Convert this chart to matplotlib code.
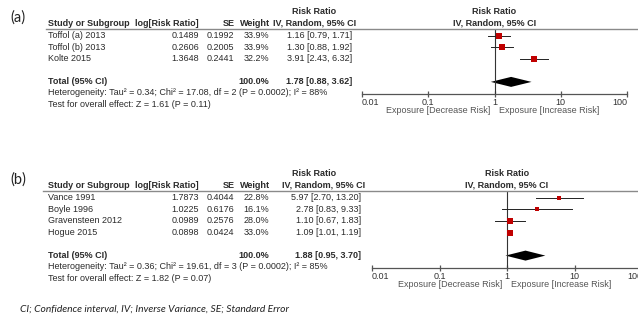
import numpy as np
import matplotlib.pyplot as plt
from matplotlib.transforms import Affine2D
from matplotlib.ticker import NullLocator

# ------------------------------------------------------------------
# Study data (two meta-analyses, inverse variance, random effects)
# ------------------------------------------------------------------
a_studies = ["Toffol (a) 2013", "Toffol (b) 2013", "Kolte 2015"]
a_logrr = [0.1489, 0.2606, 1.3648]
a_se = [0.1992, 0.2005, 0.2441]
a_weight = [33.9, 33.9, 32.2]
a_rr = [1.16, 1.30, 3.91]
a_lo = [0.79, 0.88, 2.43]
a_hi = [1.71, 1.92, 6.32]
a_total = [1.78, 0.88, 3.62]
a_total_weight = 100.0
a_het = "Heterogeneity: Tau\u00b2 = 0.34; Chi\u00b2 = 17.08, df = 2 (P = 0.0002); I\u00b2 = 88%"
a_test = "Test for overall effect: Z = 1.61 (P = 0.11)"

b_studies = ["Vance 1991", "Boyle 1996", "Gravensteen 2012", "Hogue 2015"]
b_logrr = [1.7873, 1.0225, 0.0989, 0.0898]
b_se = [0.4044, 0.6176, 0.2576, 0.0424]
b_weight = [22.8, 16.1, 28.0, 33.0]
b_rr = [5.97, 2.78, 1.10, 1.09]
b_lo = [2.70, 0.83, 0.67, 1.01]
b_hi = [13.20, 9.33, 1.83, 1.19]
b_total = [1.88, 0.95, 3.70]
b_total_weight = 100.0
b_het = "Heterogeneity: Tau\u00b2 = 0.36; Chi\u00b2 = 19.61, df = 3 (P = 0.0002); I\u00b2 = 85%"
b_test = "Test for overall effect: Z = 1.82 (P = 0.07)"

ticks = [0.01, 0.1, 1, 10, 100]
tick_labels = ["0.01", "0.1", "1", "10", "100"]

W, H = 638, 324
plt.rcParams['font.family'] = ['Liberation Sans', 'DejaVu Sans']

fig = plt.figure(figsize=(W / 100, H / 100), dpi=100)
fig.patch.set_facecolor('white')

# pixel coordinates, origin top-left
pix = Affine2D().scale(1 / W, -1 / H).translate(0, 1) + fig.transFigure

TXT = '#2b2b2b'
FS = 6.5
RED = '#C00000'


def forest(tag, studies, logrr, se, weight, rr, lo, hi, total, total_w,
           het, test, top, x0, x1, ci_right, ci_center, rule_left):
    y_h1, y_h2, y_rule = top, top + 11.5, top + 17.5
    row0, step = top + 24, 11.7
    y_tot = row0 + step * (len(studies) - 1) + 23
    y_axis = y_tot + 12

    fig.text(10, top + 6.5, tag, transform=pix, fontsize=10.5, family='Lato',
             color='#222222', va='center')

    # table header
    fig.text(314, y_h1, "Risk Ratio", transform=pix, fontsize=FS,
             weight='bold', color=TXT, ha='center', va='center')
    fig.text(48, y_h2, "Study or Subgroup", transform=pix, fontsize=FS,
             weight='bold', color=TXT, va='center')
    fig.text(199, y_h2, "log[Risk Ratio]", transform=pix, fontsize=FS,
             weight='bold', color=TXT, ha='right', va='center')
    fig.text(235, y_h2, "SE", transform=pix, fontsize=FS,
             weight='bold', color=TXT, ha='right', va='center')
    fig.text(270, y_h2, "Weight", transform=pix, fontsize=FS,
             weight='bold', color=TXT, ha='right', va='center')
    fig.text(ci_center, y_h2, "IV, Random, 95% CI", transform=pix,
             fontsize=FS, weight='bold', color=TXT, ha='center', va='center')
    xm = (x0 + x1) / 2
    fig.text(xm, y_h1, "Risk Ratio", transform=pix, fontsize=FS,
             weight='bold', color=TXT, ha='center', va='center')
    fig.text(xm, y_h2, "IV, Random, 95% CI", transform=pix, fontsize=FS,
             weight='bold', color=TXT, ha='center', va='center')
    fig.add_artist(plt.Line2D([rule_left, W], [y_rule, y_rule],
                              transform=pix, color='#8a8a8a', lw=1.0))

    # study rows
    for i, name in enumerate(studies):
        y = row0 + i * step
        fig.text(48, y, name, transform=pix, fontsize=FS, color=TXT, va='center')
        fig.text(199, y, f"{logrr[i]:.4f}", transform=pix, fontsize=FS,
                 color=TXT, ha='right', va='center')
        fig.text(234, y, f"{se[i]:.4f}", transform=pix, fontsize=FS,
                 color=TXT, ha='right', va='center')
        fig.text(269, y, f"{weight[i]:.1f}%", transform=pix, fontsize=FS,
                 color=TXT, ha='right', va='center')
        fig.text(ci_right, y, f"{rr[i]:.2f} [{lo[i]:.2f}, {hi[i]:.2f}]",
                 transform=pix, fontsize=FS, color=TXT, ha='right', va='center')

    fig.text(48, y_tot, "Total (95% CI)", transform=pix, fontsize=FS,
             weight='bold', color=TXT, va='center')
    fig.text(269, y_tot, f"{total_w:.1f}%", transform=pix, fontsize=FS,
             weight='bold', color=TXT, ha='right', va='center')
    fig.text(ci_right, y_tot,
             f"{total[0]:.2f} [{total[1]:.2f}, {total[2]:.2f}]",
             transform=pix, fontsize=FS, weight='bold', color=TXT,
             ha='right', va='center')
    fig.text(48, y_tot + 11, het, transform=pix, fontsize=FS, color=TXT,
             va='center')
    fig.text(48, y_tot + 22.5, test, transform=pix, fontsize=FS, color=TXT,
             va='center')

    # forest plot area: y data are pixel rows
    ax = fig.add_axes([x0 / W, 1 - y_axis / H, (x1 - x0) / W,
                       (y_axis - y_rule) / H])
    ax.set_xscale('log')
    ax.set_xlim(0.01, 100)
    ax.set_ylim(y_axis, y_rule)
    ax.patch.set_alpha(0)
    for s in ('top', 'left', 'right'):
        ax.spines[s].set_visible(False)
    ax.spines['bottom'].set_color('#555555')
    ax.spines['bottom'].set_linewidth(0.9)
    ax.set_yticks([])
    ax.set_xticks(ticks, labels=tick_labels)
    ax.xaxis.set_minor_locator(NullLocator())
    ax.tick_params(axis='x', direction='inout', length=5, width=0.9,
                   color='#555555', labelsize=FS, labelcolor='#333333', pad=0.5)
    labs = ax.get_xticklabels()
    labs[0].set_ha('left')
    labs[-1].set_ha('right')

    ax.plot([1, 1], [y_rule, y_axis], color='#333333', lw=0.8)
    for i in range(len(studies)):
        y = row0 + i * step
        ax.plot([lo[i], hi[i]], [y, y], color='#222222', lw=0.7)
        ms = 4.0 * np.sqrt(weight[i] / 33.9)
        ax.plot(rr[i], y, marker='s', ms=ms, color=RED, mec=RED, mew=0)
    ax.fill([total[1], total[0], total[2], total[0]],
            [y_tot, y_tot - 5, y_tot, y_tot + 5], color='black', lw=0)

    y_exp = y_axis + 17
    ax.annotate("Exposure [Decrease Risk]", xy=(1, y_exp), xytext=(-3, 0),
                textcoords='offset points', ha='right', va='center',
                fontsize=FS, color='#555555', annotation_clip=False)
    ax.annotate("Exposure [Increase Risk]", xy=(1, y_exp), xytext=(3, 0),
                textcoords='offset points', ha='left', va='center',
                fontsize=FS, color='#555555', annotation_clip=False)


forest("(a)", a_studies, a_logrr, a_se, a_weight, a_rr, a_lo, a_hi, a_total,
       a_total_weight, a_het, a_test, top=11.5, x0=362, x1=627,
       ci_right=352, ci_center=315, rule_left=46)
forest("(b)", b_studies, b_logrr, b_se, b_weight, b_rr, b_lo, b_hi, b_total,
       b_total_weight, b_het, b_test, top=173.5, x0=372, x1=642,
       ci_right=361, ci_center=324, rule_left=43)

fig.text(20, 309, "CI; Confidence interval, IV; Inverse Variance, SE; Standard Error",
         transform=pix, fontsize=7.4, style='italic', family='Lato',
         color='#222222', va='center')

fig.savefig('out.png', dpi=100, facecolor='white')
